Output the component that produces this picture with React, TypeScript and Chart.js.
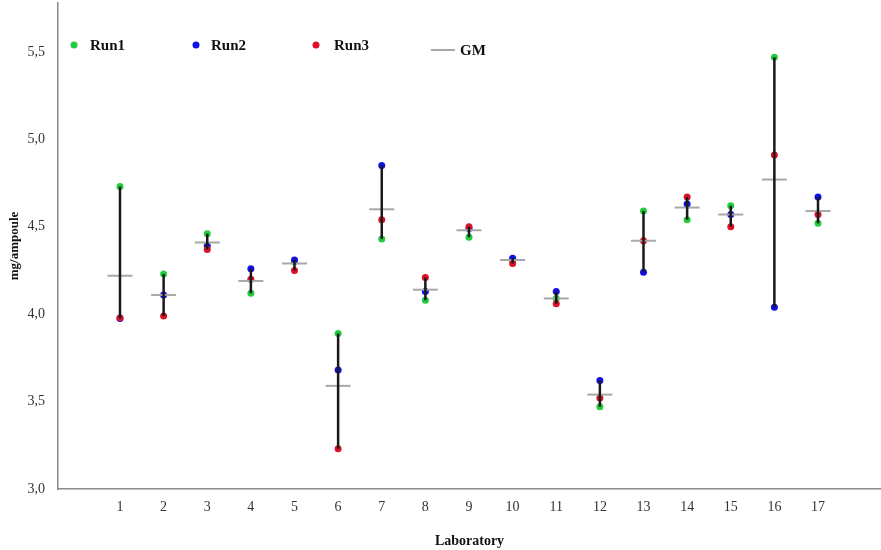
import React, { useEffect, useRef } from "react";
import { Chart, registerables } from "chart.js";

Chart.register(...registerables);

const labs = [1, 2, 3, 4, 5, 6, 7, 8, 9, 10, 11, 12, 13, 14, 15, 16, 17];
const run1 = [4.73, 4.23, 4.46, 4.12, 4.3, 3.89, 4.43, 4.08, 4.44, 4.31, 4.09, 3.47, 4.59, 4.54, 4.62, 5.47, 4.52];
const run2 = [3.975, 4.11, 4.39, 4.26, 4.31, 3.68, 4.85, 4.13, 4.49, 4.32, 4.13, 3.62, 4.24, 4.63, 4.57, 4.04, 4.67];
const run3 = [3.98, 3.99, 4.37, 4.2, 4.25, 3.23, 4.54, 4.21, 4.5, 4.29, 4.06, 3.52, 4.42, 4.67, 4.5, 4.91, 4.57];
const gm = [4.22, 4.11, 4.41, 4.19, 4.29, 3.59, 4.6, 4.14, 4.48, 4.31, 4.09, 3.54, 4.42, 4.61, 4.57, 4.77, 4.59];
const yTicks = [3.0, 3.5, 4.0, 4.5, 5.0, 5.5];
const seriesNames = ["Run1", "Run2", "Run3", "GM"];

const GREEN = "#22cc3c";
const BLUE = "#1010e0";
const RED = "#dc1028";
const GRAY = "#a8a8a8";
const FONT = "'Liberation Serif', 'Times New Roman', serif";

const legendPlugin = {
  id: "insideLegend",
  afterDraw(chart: any) {
    const ctx = chart.ctx;
    ctx.save();
    ctx.font = `bold 15px ${FONT}`;
    ctx.textBaseline = "middle";
    ctx.fillStyle = "#111";
    const items = [
      { name: seriesNames[0], color: GREEN, x: 74, y: 45, tx: 90 },
      { name: seriesNames[1], color: BLUE, x: 196, y: 45, tx: 211 },
      { name: seriesNames[2], color: RED, x: 316, y: 45, tx: 334 },
    ];
    for (const it of items) {
      ctx.beginPath();
      ctx.fillStyle = it.color;
      ctx.arc(it.x, it.y, 3.5, 0, Math.PI * 2);
      ctx.fill();
      ctx.fillStyle = "#111";
      ctx.fillText(it.name, it.tx, it.y + 1);
    }
    ctx.strokeStyle = GRAY;
    ctx.lineWidth = 2;
    ctx.beginPath();
    ctx.moveTo(431, 50);
    ctx.lineTo(455, 50);
    ctx.stroke();
    ctx.fillStyle = "#111";
    ctx.fillText(seriesNames[3], 460, 51);
    ctx.restore();
  },
};

export default function App() {
  const ref = useRef<HTMLCanvasElement | null>(null);

  useEffect(() => {
    document.body.style.margin = "0";
    if (!ref.current) return;

    const rangeData: any[] = [];
    labs.forEach((l, i) => {
      const vals = [run1[i], run2[i], run3[i]];
      rangeData.push({ x: l, y: Math.min(...vals) });
      rangeData.push({ x: l, y: Math.max(...vals) });
      rangeData.push({ x: l, y: null });
    });

    const chart = new Chart(ref.current, {
      type: "scatter",
      data: {
        datasets: [
          {
            type: "line",
            label: "range",
            data: rangeData,
            borderColor: "#1a1a1a",
            borderWidth: 2.5,
            pointRadius: 0,
            spanGaps: false,
            order: 0,
          } as any,
          {
            label: seriesNames[3],
            data: labs.map((l, i) => ({ x: l, y: gm[i] })),
            pointStyle: "line",
            pointRadius: 12.5,
            borderColor: GRAY,
            backgroundColor: GRAY,
            borderWidth: 2,
            order: 1,
          },
          {
            label: seriesNames[2],
            data: labs.map((l, i) => ({ x: l, y: run3[i] })),
            pointRadius: 3.5,
            backgroundColor: RED,
            borderColor: RED,
            borderWidth: 0,
            order: 2,
          },
          {
            label: seriesNames[1],
            data: labs.map((l, i) => ({ x: l, y: run2[i] })),
            pointRadius: 3.5,
            backgroundColor: BLUE,
            borderColor: BLUE,
            borderWidth: 0,
            order: 3,
          },
          {
            label: seriesNames[0],
            data: labs.map((l, i) => ({ x: l, y: run1[i] })),
            pointRadius: 3.5,
            backgroundColor: GREEN,
            borderColor: GREEN,
            borderWidth: 0,
            order: 4,
          },
        ],
      },
      options: {
        animation: false,
        responsive: false,
        layout: { autoPadding: false, padding: { top: 3, right: 0, left: 0, bottom: 0 } },
        plugins: {
          legend: { display: false },
          tooltip: { enabled: false },
        },
        scales: {
          x: {
            type: "linear",
            min: -0.421,
            max: 18.444,
            grid: { display: false },
            border: { display: true, color: "#888", width: 1.5 },
            afterBuildTicks: (axis: any) => {
              axis.ticks = labs.map((v) => ({ value: v }));
            },
            afterFit: (axis: any) => {
              axis.height = 61;
              axis.paddingRight = 0;
            },
            ticks: {
              autoSkip: false,
              maxRotation: 0,
              padding: 2,
              color: "#333",
              font: { family: FONT, size: 14 },
              callback: (v: any) => String(v),
            },
            title: {
              display: true,
              text: "Laboratory",
              color: "#111",
              font: { family: FONT, size: 14, weight: "bold" },
              padding: { top: 0, bottom: 0 },
            },
          },
          y: {
            type: "linear",
            min: 3,
            max: 5.78,
            grid: { display: false },
            border: { display: true, color: "#888", width: 1.5 },
            afterBuildTicks: (axis: any) => {
              axis.ticks = yTicks.map((v) => ({ value: v }));
            },
            afterFit: (axis: any) => {
              axis.width = 58;
              axis.paddingTop = 0;
            },
            ticks: {
              padding: 5,
              color: "#333",
              font: { family: FONT, size: 14 },
              callback: (v: any) => Number(v).toFixed(1).replace(".", ","),
            },
            title: {
              display: true,
              text: "mg/ampoule",
              color: "#111",
              font: { family: FONT, size: 13, weight: "bold" },
              padding: { top: 7, bottom: 0 },
            },
          },
        },
      },
      plugins: [legendPlugin],
    } as any);

    return () => chart.destroy();
  }, []);

  return (
    <div style={{ width: 881, height: 550 }}>
      <canvas ref={ref} width={881} height={550} style={{ display: "block" }} />
    </div>
  );
}
